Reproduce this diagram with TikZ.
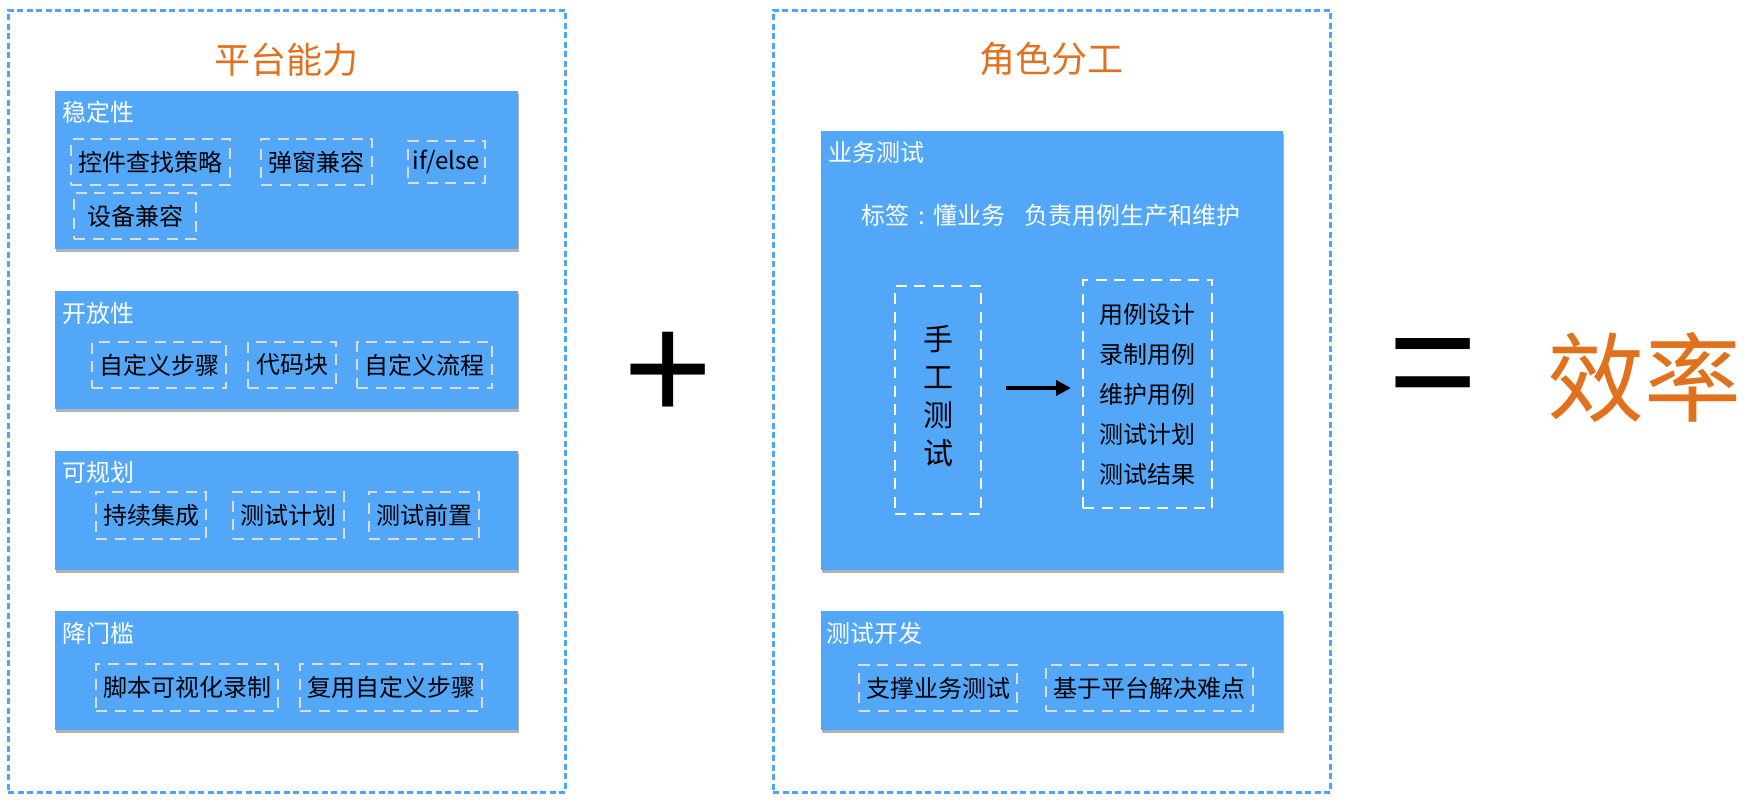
\documentclass[tikz,border=0pt]{standalone}
\usepackage{fontspec}
\setmainfont{Noto Sans CJK SC}
\newfontfamily\latinsans{Liberation Sans}
\usetikzlibrary{arrows.meta,shadows}
\definecolor{panelblue}{HTML}{52A7F9}
\definecolor{outerblue}{HTML}{4EA5F7}
\definecolor{dashgray}{HTML}{DCDCDC}
\definecolor{titleorange}{HTML}{E2711D}
\begin{document}
\begin{tikzpicture}[x=1pt,y=-1pt,
  outerbox/.style={draw=outerblue, line width=3pt, dash pattern=on 6pt off 3.5pt, anchor=north west, inner sep=0pt, outer sep=0pt},
  panel/.style={fill=panelblue, anchor=north west, inner sep=0pt, outer sep=0pt, general shadow={fill=black!30, shadow xshift=1pt, shadow yshift=-2.5pt}},
  plabel/.style={anchor=west, inner sep=0pt, text=white, font=\fontsize{24}{28}\selectfont},
  item/.style={draw=dashgray, line width=2.5pt, dash pattern=on 11pt off 7.5pt, anchor=north west, inner sep=0pt, outer sep=0pt, text=black, font=\fontsize{24}{28}\selectfont, align=center},
  witem/.style={item, draw=white, line width=2.5pt},
  title/.style={text=titleorange, font=\fontsize{36}{40}\selectfont, inner sep=0pt},
  arr/.style={line width=4.5pt, -{Triangle[length=15pt,width=15pt]}}
]
\useasboundingbox (0,0) rectangle (1745,801);
% outer boxes
\node[outerbox, minimum width=557pt, minimum height=782pt] (left) at (8,10) {};
\node[outerbox, minimum width=557pt, minimum height=782pt] (right) at (773,10) {};
\node[title] (t1) at (286.5,60) {平台能力};
\node[title] (t2) at (1051,59) {角色分工};
% panel 1
\node[panel, minimum width=463pt, minimum height=158pt] (p1) at (55,91) {};
\node[plabel] (p1l) at ([shift={(7,21.5)}]p1.north west) {稳定性};
\node[item, minimum width=159pt, minimum height=46pt] (k1) at (71,139) {控件查找策略};
\node[item, minimum width=111pt, minimum height=46pt] (k2) at (261,139) {弹窗兼容};
\node[item, minimum width=77pt, minimum height=42pt] (k3) at (408,141) {if/else};
\node[item, minimum width=122pt, minimum height=46pt] (k4) at (74,193) {设备兼容};
% panel 2
\node[panel, minimum width=463pt, minimum height=118pt] (p2) at (55,291) {};
\node[plabel] (p2l) at ([shift={(7,22)}]p2.north west) {开放性};
\node[item, minimum width=134pt, minimum height=46pt] (o1) at (92,342) {自定义步骤};
\node[item, minimum width=88pt, minimum height=46pt] (o2) at (248,342) {代码块};
\node[item, minimum width=135pt, minimum height=46pt] (o3) at (357,342) {自定义流程};
% panel 3
\node[panel, minimum width=463pt, minimum height=119pt] (p3) at (55,451) {};
\node[plabel] (p3l) at ([shift={(7,21.5)}]p3.north west) {可规划};
\node[item, minimum width=110pt, minimum height=47pt] (g1) at (96,492) {持续集成};
\node[item, minimum width=111pt, minimum height=47pt] (g2) at (233,492) {测试计划};
\node[item, minimum width=110pt, minimum height=47pt] (g3) at (369,492) {测试前置};
% panel 4
\node[panel, minimum width=463pt, minimum height=119pt] (p4) at (55,611) {};
\node[plabel] (p4l) at ([shift={(7,22)}]p4.north west) {降门槛};
\node[item, minimum width=182pt, minimum height=47pt] (l1) at (96,664) {脚本可视化录制};
\node[item, minimum width=182pt, minimum height=47pt] (l2) at (300,664) {复用自定义步骤};
% business test panel
\node[panel, minimum width=462pt, minimum height=439pt] (b) at (821,131) {};
\node[plabel] (bl) at ([shift={(7,21)}]b.north west) {业务测试};
\node[inner sep=0pt, text=white, font=\fontsize{24}{28}\selectfont] (tag) at (1051,215) {标签\makebox[1em]{:}懂业务\hspace{0.8em}负责用例生产和维护};
\node[witem, minimum width=86pt, minimum height=228pt, font=\fontsize{30}{38}\selectfont] (manual) at (895,286) {\raisebox{7pt}{\begin{tabular}{@{}c@{}}手\\工\\测\\试\end{tabular}}};
\node[witem, minimum width=129pt, minimum height=228pt, font=\fontsize{24}{40}\selectfont] (lst) at (1083,280) {用例设计\\录制用例\\维护用例\\测试计划\\测试结果};
\draw[arr] ([shift={(25,-12)}]manual.east) -- ([shift={(-12,-6)}]lst.west);
% dev panel
\node[panel, minimum width=462pt, minimum height=119pt] (d) at (821,611) {};
\node[plabel] (dl) at ([shift={(5,22)}]d.north west) {测试开发};
\node[item, minimum width=158pt, minimum height=46pt] (d1) at (859,665) {支撑业务测试};
\node[item, minimum width=207pt, minimum height=46pt] (d2) at (1046,665) {基于平台解决难点};
% operators and result
\node[inner sep=0pt, font=\latinsans\fontsize{153}{160}\selectfont] (plus) at (668,376) {+};
\node[inner sep=0pt, font=\latinsans\fontsize{153}{160}\selectfont] (eq) at (1433.5,376) {=};
\node[inner sep=0pt, text=titleorange, font=\fontsize{97}{105}\selectfont] (eff) at (1644,377.5) {效率};
\end{tikzpicture}
\end{document}
